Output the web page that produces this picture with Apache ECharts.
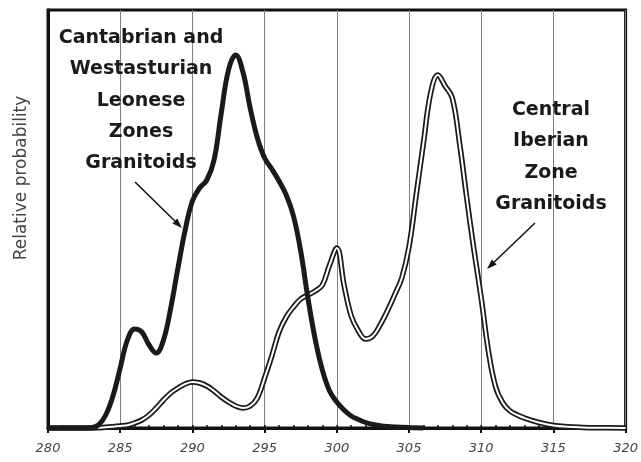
<!DOCTYPE html>
<html>
<head>
<meta charset="utf-8">
<script src="https://cdn.jsdelivr.net/npm/echarts@6/dist/echarts.min.js"></script>
<style>
html,body{margin:0;padding:0;background:#fff;}
#c{width:641px;height:462px;}
</style>
</head>
<body>
<div id="c"></div>
<script>
// Cantabrian and Westasturian Leonese Zones granitoids (thick black curve)
const cwalzAge  = [280, 282, 282.5, 283, 283.5, 284, 284.5, 285, 285.5, 286, 286.5, 287, 287.5, 288, 288.5, 289, 289.5, 290, 290.5, 291, 291.5, 292, 292.5, 293, 293.5, 294, 294.5, 295, 295.5, 296, 296.5, 297, 297.5, 298, 298.5, 299, 299.5, 300, 300.5, 301, 301.5, 302, 302.5, 303, 303.5, 304, 305, 306];
const cwalzProb = [0, 0, 0, 0.3, 3, 13, 32, 60, 88, 99, 96, 83, 75, 88, 120, 160, 198, 227, 240, 248, 268, 315, 358, 373, 356, 320, 290, 270, 259, 247, 233, 212, 177, 130, 89, 58, 37, 26, 18, 12, 8.5, 5.5, 3.5, 2.3, 1.5, 1, 0.4, 0];

// Central Iberian Zone granitoids (double outlined curve)
const cizAge  = [280, 283, 283.5, 284, 284.5, 285, 285.5, 286, 286.5, 287, 287.5, 288, 288.5, 289, 289.5, 290, 290.5, 291, 291.5, 292, 292.5, 293, 293.5, 294, 294.5, 295, 295.5, 296, 296.5, 297, 297.5, 298, 298.5, 299, 299.5, 300, 300.5, 301, 301.5, 302, 302.5, 303, 303.5, 304, 304.5, 305, 305.5, 306, 306.5, 307, 307.5, 308, 308.5, 309, 309.5, 310, 310.5, 311, 311.5, 312, 312.5, 313, 314, 315, 316, 317, 318, 320];
const cizProb = [0, 0, 0.3, 0.7, 1.3, 2, 2.7, 5, 8, 13, 20, 28, 35, 40, 44, 46, 45, 42, 37, 31, 26, 22, 20, 22, 30, 50, 72, 96, 111, 121, 129, 133, 137, 143, 163, 180, 143, 112, 97, 89, 92, 103, 117, 133, 150, 181, 233, 285, 335, 353, 342, 330, 285, 230, 178, 130, 77, 41, 25, 17, 13, 10, 5.5, 2.5, 1.2, 0.6, 0.3, 0];

const xTicks = [280, 285, 290, 295, 300, 305, 310, 315, 320];
const leftNote  = ['Cantabrian and', 'Westasturian', 'Leonese', 'Zones', 'Granitoids'];
const rightNote = ['Central', 'Iberian', 'Zone', 'Granitoids'];
const yTitle = 'Relative probability';

const cwalzData = cwalzAge.map((a, i) => [a, cwalzProb[i]]);
const cizData = cizAge.map((a, i) => [a, cizProb[i]]);

const chart = echarts.init(document.getElementById('c'), null, {renderer: 'canvas'});
const annFont = '"DejaVu Sans", sans-serif';

function noteTexts(lines, cx, y0, step) {
  return lines.map((t, i) => ({
    type: 'text',
    x: cx, y: y0 + i * step,
    style: {text: t, x: 0, y: 0, textAlign: 'center', textVerticalAlign: 'middle',
      fontFamily: annFont, fontWeight: 'bold', fontSize: 19, fill: '#1a1a1a'},
    z: 100
  }));
}
function arrow(x1, y1, x2, y2) {
  const ang = Math.atan2(y2 - y1, x2 - x1);
  const L = 10, W = 3.5;
  const bx = x2 - L * Math.cos(ang), by = y2 - L * Math.sin(ang);
  const px = -Math.sin(ang) * W, py = Math.cos(ang) * W;
  return [
    {type: 'line', shape: {x1: x1, y1: y1, x2: bx, y2: by}, style: {stroke: '#111', lineWidth: 1.5}, z: 100},
    {type: 'polygon', shape: {points: [[x2, y2], [bx + px, by + py], [bx - px, by - py]]}, style: {fill: '#111'}, z: 100}
  ];
}

const lineCommon = {type: 'line', smooth: 0.4, symbol: 'none', clip: false};

const option = {
  backgroundColor: '#fff',
  animation: false,
  grid: {left: 48, right: 14, top: 10, bottom: 34, show: true, borderColor: '#111', borderWidth: 3, backgroundColor: 'transparent'},
  xAxis: [{
    type: 'value', min: 280, max: 320, interval: 5,
    axisLine: {show: true, lineStyle: {color: '#111', width: 3}},
    axisTick: {show: true, inside: false, length: 5, lineStyle: {color: '#111', width: 2}},
    axisLabel: {show: true, margin: 14, fontSize: 13, fontStyle: 'italic', fontFamily: '"DejaVu Sans", sans-serif', fontWeight: 'normal', color: '#444',
      formatter: v => xTicks.includes(v) ? String(v) : ''},
    splitLine: {show: true, lineStyle: {color: '#808080', width: 1}}
  }, {
    type: 'value', min: 280, max: 320, interval: 1, position: 'bottom',
    axisLine: {show: false},
    axisTick: {show: true, inside: true, length: 3, lineStyle: {color: '#111', width: 1.5}},
    axisLabel: {show: false},
    splitLine: {show: false}
  }],
  yAxis: {
    type: 'value', min: 0, max: 418,
    axisLine: {show: true, lineStyle: {color: '#111', width: 3}},
    axisTick: {show: false}, axisLabel: {show: false}, splitLine: {show: false}
  },
  series: [
    Object.assign({}, lineCommon, {data: cizData, z: 3, lineStyle: {color: '#1a1a1a', width: 5.5}}),
    Object.assign({}, lineCommon, {data: cizData, z: 4, lineStyle: {color: '#ffffff', width: 2}}),
    Object.assign({}, lineCommon, {data: cwalzData, z: 5, lineStyle: {color: '#1a1a1a', width: 5}})
  ],
  graphic: [
    {type: 'text', x: 22, y: 178, rotation: Math.PI / 2,
      style: {text: yTitle, x: 0, y: 0, textAlign: 'center', textVerticalAlign: 'middle',
        fontFamily: '"DejaVu Sans", sans-serif', fontWeight: 'normal', fontSize: 17, fill: '#444'}, z: 100},
    ...noteTexts(leftNote, 141, 38, 31.3),
    ...noteTexts(rightNote, 551, 110, 31.5),
    ...arrow(135, 182, 182, 228),
    ...arrow(535, 223, 487, 269)
  ]
};
chart.setOption(option);
</script>
</body>
</html>
